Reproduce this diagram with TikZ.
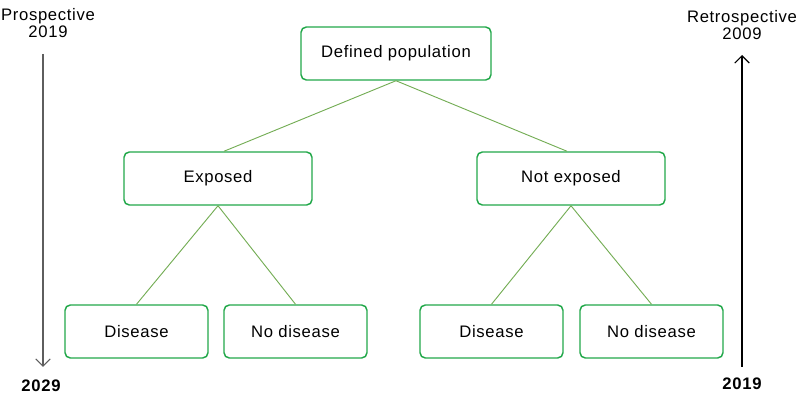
\documentclass[tikz,border=0pt]{standalone}
\usepackage{fontspec}
\setmainfont{Liberation Sans}[LetterSpace=4]
\usepackage{tikz}
\usetikzlibrary{arrows.meta,positioning}
\definecolor{boxgreen}{HTML}{22A84A}
\definecolor{linkgreen}{HTML}{74AD55}
\definecolor{axisgray}{HTML}{5E5E5E}

\begin{document}
\begin{tikzpicture}[
  x=0.75pt, y=-0.75pt,
  font=\fontsize{12.5}{12.5}\selectfont,
  groupbox/.style 2 args={
    draw=boxgreen,
    fill=white,
    rounded corners=4pt,
    line width=1.1pt,
    inner sep=0pt,
    minimum width=#1,
    minimum height=#2,
    align=center
  },
  link/.style={draw=linkgreen, line width=0.7pt},
  timeaxis/.style={line width=1pt, -{Straight Barb[length=5.5pt,width=11pt,line width=0.8pt]}}
]

  \useasboundingbox (0,0) rectangle (808,406);

  % Tree of the cohort
  \node[groupbox={142.5pt}{39.75pt}] (pop) at (396,53.5) {Defined population};
  \node[groupbox={141pt}{39.75pt}] (exposed) at (218,178.5) {Exposed};
  \node[groupbox={141pt}{39.75pt}] (notexposed) at (571,178.5) {Not exposed};

  \node[groupbox={107.25pt}{39.75pt}] (disL) at (136.5,331.5) {Disease};
  \node[groupbox={107.25pt}{39.75pt}] (nodisL) at (295.5,331.5) {No disease};
  \node[groupbox={107.25pt}{39.75pt}] (disR) at (491.5,331.5) {Disease};
  \node[groupbox={107.25pt}{39.75pt}] (nodisR) at (651.5,331.5) {No disease};

  % Branches
  \draw[link] (pop.south) -- ([xshift=4.5pt]exposed.north);
  \draw[link] (pop.south) -- ([xshift=-3pt]notexposed.north);
  \draw[link] (exposed.south) -- (disL.north);
  \draw[link] (exposed.south) -- (nodisL.north);
  \draw[link] (notexposed.south) -- (disR.north);
  \draw[link] (notexposed.south) -- (nodisR.north);

  % Prospective time line (left)
  \node[align=center, inner sep=0pt] (prostitle) at (48,23) {Prospective\\2019};
  \node[font=\fontsize{12.5}{12.5}\selectfont\bfseries, inner sep=0pt] (prosend) at (41,386) {2029};
  \coordinate (prostop) at (43,54);
  \coordinate (prosbot) at (43,367);
  \draw[timeaxis, axisgray] (prostop) -- (prosbot);

  % Retrospective time line (right)
  \node[align=center, inner sep=0pt] (retrotitle) at (742,25) {Retrospective\\2009};
  \node[font=\fontsize{12.5}{12.5}\selectfont\bfseries, inner sep=0pt] (retroend) at (742,384) {2019};
  \coordinate (retrobot) at (742,367);
  \coordinate (retrotop) at (742,55);
  \draw[timeaxis, black] (retrobot) -- (retrotop);

\end{tikzpicture}
\end{document}
